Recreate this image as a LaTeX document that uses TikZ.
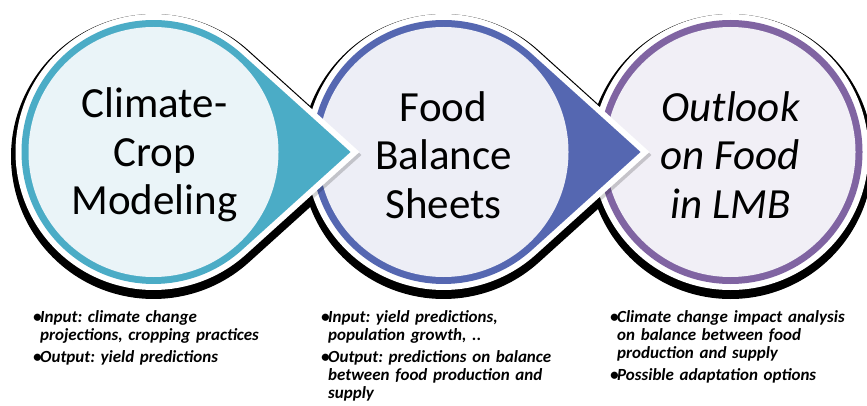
\documentclass[tikz,border=0pt]{standalone}
\usepackage{fontspec}
\setmainfont{Carlito}
\usetikzlibrary{calc}

% ring colours and light core colours of the three stages
\definecolor{ringA}{HTML}{4BACC6}
\definecolor{ringB}{HTML}{5567B1}
\definecolor{ringC}{HTML}{8064A2}
\definecolor{coreA}{HTML}{EAF4F8}
\definecolor{coreB}{HTML}{EDEEF6}
\definecolor{coreC}{HTML}{F1EFF6}

\tikzset{
  % circle of radius 132pt with a point 197pt to its right
  teardrop/.style={insert path={
    ($(#1)+(197pt,0pt)$) -- ($(#1)+(48.1:132pt)$)
    arc[start angle=48.1, end angle=311.9, radius=132pt] -- cycle}},
  disc/.style={insert path={(#1) circle[radius=132pt]}},
  dropshadow/.style={fill=black, draw=black, line width=21pt, line join=miter},
  softshadow/.style={fill=black, draw=black, line width=12pt, line join=miter, opacity=0.18},
  dropborder/.style={fill=white, draw=white, line width=12pt, line join=miter},
  title/.style={align=center, inner sep=0pt, font=\fontsize{43}{48.5}\selectfont},
  notes/.style={anchor=north west, align=left, text width=290pt, inner sep=0pt,
    font=\fontsize{17}{18}\selectfont\bfseries\itshape\frenchspacing},
}
\newcommand\bulletmark{\makebox[7pt][l]{•}}
\newcommand\hangline{\newline\hspace*{7pt}}

\begin{document}
\begin{tikzpicture}[x=1pt, y=1pt]
  \fill[white] (0,0) rectangle (867,405);
  \useasboundingbox (0,0) rectangle (867,405);

  % stage centres and their shadow positions
  \coordinate (c1) at (153.5,253);
  \coordinate (c2) at (443.5,253);
  \coordinate (c3) at (730.5,253);
  \coordinate (s1) at (153.5,248.5);
  \coordinate (s2) at (443.5,248.5);
  \coordinate (s3) at (730.5,248.5);
  \coordinate (g1) at (155.5,250);
  \coordinate (g2) at (445.5,250);

  % hard shadows behind all three shapes
  \path[dropshadow, teardrop=s1];
  \path[dropshadow, teardrop=s2];
  \path[dropshadow, disc=s3];

  % third stage: a plain disc
  \path[dropborder, disc=c3];
  \fill[ringC, disc=c3];
  \fill[coreC] (c3) circle[radius=125pt];

  % second stage, overlapping the third
  \path[softshadow, teardrop=g2];
  \path[dropborder, teardrop=c2];
  \fill[ringB, teardrop=c2];
  \fill[coreB] (c2) circle[radius=125pt];

  % first stage, overlapping the second
  \path[softshadow, teardrop=g1];
  \path[dropborder, teardrop=c1];
  \fill[ringA, teardrop=c1];
  \fill[coreA] (c1) circle[radius=125pt];

  % stage titles
  \node[title] (t1) at ($(c1)+(1,-3)$) {Climate-\\Crop\\Modeling};
  \node[title] (t2) at ($(c2)+(0,-3)$) {Food\\Balance\\Sheets};
  \node[title, font=\fontsize{43}{48.5}\selectfont\itshape] (t3) at ($(c3)+(0,-3)$) {Outlook\\on Food\\in LMB};

  % notes under each stage
  \node[notes] (n1) at (33,95) {\bulletmark Input: climate change\hangline projections, cropping practices\\[4.5pt]
    \bulletmark Output: yield predictions};
  \node[notes] (n2) at (321,95) {\bulletmark Input: yield predictions,\hangline population growth, ..\\[4.5pt]
    \bulletmark Output: predictions on balance\hangline between food production and\hangline supply};
  \node[notes] (n3) at (610,95) {\bulletmark Climate change impact analysis\hangline on balance between food\hangline production and supply\\[4.5pt]
    \bulletmark Possible adaptation options};
\end{tikzpicture}
\end{document}
